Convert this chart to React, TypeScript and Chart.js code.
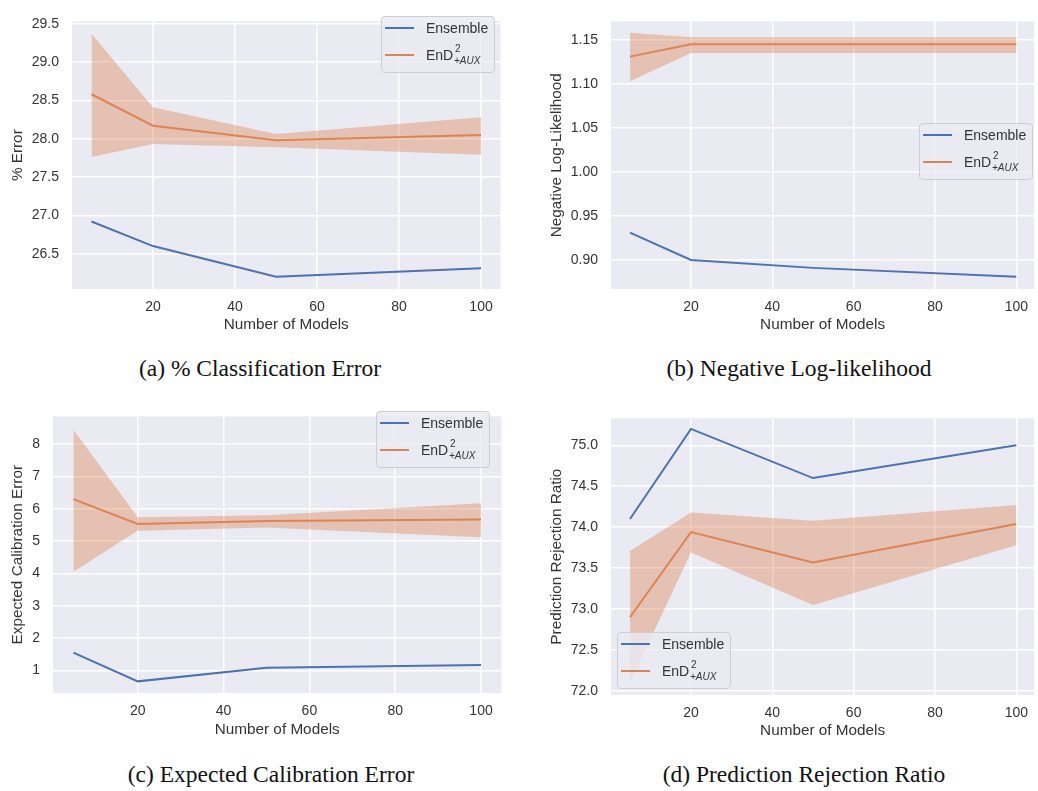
import React, { useEffect, useRef } from "react";
import { Chart, registerables } from "chart.js";

Chart.register(...registerables);

// ---------- data ----------
const numModels = [5, 20, 50, 100];
const xTicks = [20, 40, 60, 80, 100];

// (a) % Classification Error
const errEnsemble = [26.92, 26.6, 26.2, 26.31];
const errEnd = [28.58, 28.17, 27.98, 28.05];
const errEndUpper = [29.37, 28.41, 28.06, 28.28];
const errEndLower = [27.76, 27.93, 27.89, 27.79];
const errTicks = [26.5, 27.0, 27.5, 28.0, 28.5, 29.0, 29.5];

// (b) Negative Log-Likelihood
const nllEnsemble = [0.931, 0.9, 0.891, 0.881];
const nllEnd = [1.131, 1.145, 1.145, 1.145];
const nllEndUpper = [1.158, 1.153, 1.153, 1.153];
const nllEndLower = [1.103, 1.135, 1.135, 1.135];
const nllTicks = [0.9, 0.95, 1.0, 1.05, 1.1, 1.15];

// (c) Expected Calibration Error
const eceEnsemble = [1.55, 0.66, 1.08, 1.17];
const eceEnd = [6.3, 5.53, 5.62, 5.67];
const eceEndUpper = [8.45, 5.74, 5.8, 6.17];
const eceEndLower = [4.05, 5.32, 5.42, 5.12];
const eceTicks = [1, 2, 3, 4, 5, 6, 7, 8];

// (d) Prediction Rejection Ratio
const prrEnsemble = [74.1, 75.2, 74.6, 75.0];
const prrEnd = [72.9, 73.94, 73.57, 74.04];
const prrEndUpper = [73.71, 74.18, 74.08, 74.27];
const prrEndLower = [72.1, 73.69, 73.05, 73.78];
const prrTicks = [72.0, 72.5, 73.0, 73.5, 74.0, 74.5, 75.0];

const seriesLabels = ["Ensemble", "EnD2+AUX"];
const xTitle = "Number of Models";

// ---------- style ----------
const BLUE = "#4C72B0";
const ORANGE = "#DD8452";
const BAND = "rgba(221,132,82,0.40)";
const FACE = "#EAEAF2";
const TEXT = "#333333";
const SANS = '"Liberation Sans", Arial, sans-serif';
const SERIF = '"Liberation Serif", "Times New Roman", serif';
const TICK_SIZE = 14;
const TITLE_SIZE = 15.3;

type Rect = { x: number; y: number; w: number; h: number };
type Plot = { L: number; T: number; R: number; B: number };

interface PanelProps {
  canvas: Rect;
  plot: Plot;
  yTitleX: number;
  xTitleY: number;
  xMin: number;
  xMax: number;
  yMin: number;
  yMax: number;
  yTicks: number[];
  decimals: number;
  yTitle: string;
  ensemble: number[];
  end: number[];
  upper: number[];
  lower: number[];
}

const facePlugin = {
  id: "face",
  beforeDraw(chart: any) {
    const { ctx, chartArea } = chart;
    if (!chartArea) return;
    ctx.save();
    ctx.fillStyle = FACE;
    ctx.fillRect(chartArea.left, chartArea.top, chartArea.right - chartArea.left, chartArea.bottom - chartArea.top);
    ctx.restore();
  },
};

function pts(vals: number[]) {
  return numModels.map((x, i) => ({ x, y: vals[i] }));
}

function Panel(p: PanelProps) {
  const ref = useRef<HTMLCanvasElement | null>(null);
  useEffect(() => {
    if (!ref.current) return;
    const { canvas, plot } = p;
    const titleLH = TITLE_SIZE * 1.2;
    const chart = new Chart(ref.current, {
      type: "line",
      data: {
        datasets: [
          {
            label: seriesLabels[0],
            data: pts(p.ensemble),
            borderColor: BLUE,
            borderWidth: 2,
            pointRadius: 0,
            fill: false,
            tension: 0,
          },
          {
            label: seriesLabels[1],
            data: pts(p.end),
            borderColor: ORANGE,
            borderWidth: 2,
            pointRadius: 0,
            fill: false,
            tension: 0,
          },
          {
            label: "upper",
            data: pts(p.upper),
            borderColor: "transparent",
            borderWidth: 0,
            pointRadius: 0,
            fill: false,
            tension: 0,
          },
          {
            label: "lower",
            data: pts(p.lower),
            borderColor: "transparent",
            borderWidth: 0,
            pointRadius: 0,
            backgroundColor: BAND,
            fill: "-1",
            tension: 0,
          },
        ],
      },
      options: {
        animation: false,
        responsive: false,
        events: [],
        layout: {
          padding: {
            left: 0,
            top: plot.T - canvas.y,
            right: canvas.x + canvas.w - plot.R,
            bottom: 0,
          },
        },
        plugins: {
          legend: { display: false },
          tooltip: { enabled: false },
        },
        scales: {
          x: {
            type: "linear",
            min: p.xMin,
            max: p.xMax,
            afterBuildTicks: (scale: any) => {
              scale.ticks = xTicks.map((v) => ({ value: v }));
            },
            afterFit: (scale: any) => {
              scale.height = canvas.y + canvas.h - plot.B;
            },
            border: { display: false },
            grid: { color: "#ffffff", lineWidth: 1.5, drawTicks: false },
            ticks: {
              color: TEXT,
              font: { family: SANS, size: TICK_SIZE },
              padding: 10,
              maxRotation: 0,
              callback: (v: any) => String(v),
            },
            title: {
              display: true,
              text: xTitle,
              color: TEXT,
              font: { family: SANS, size: TITLE_SIZE },
              padding: { top: 0, bottom: canvas.y + canvas.h - p.xTitleY - titleLH / 2 },
            },
          },
          y: {
            type: "linear",
            min: p.yMin,
            max: p.yMax,
            afterBuildTicks: (scale: any) => {
              scale.ticks = p.yTicks.map((v) => ({ value: v }));
            },
            afterFit: (scale: any) => {
              scale.width = plot.L - canvas.x;
            },
            border: { display: false },
            grid: { color: "#ffffff", lineWidth: 1.5, drawTicks: false },
            ticks: {
              color: TEXT,
              font: { family: SANS, size: TICK_SIZE },
              padding: 13,
              callback: (v: any) => Number(v).toFixed(p.decimals),
            },
            title: {
              display: true,
              text: p.yTitle,
              color: TEXT,
              font: { family: SANS, size: TITLE_SIZE },
              padding: { top: p.yTitleX - canvas.x - titleLH / 2, bottom: 0 },
            },
          },
        },
      },
      plugins: [facePlugin],
    } as any);
    return () => chart.destroy();
  }, []);
  const { canvas } = p;
  return (
    <canvas
      ref={ref}
      width={canvas.w}
      height={canvas.h}
      style={{ position: "absolute", left: canvas.x, top: canvas.y, width: canvas.w, height: canvas.h }}
    />
  );
}

function Legend({ left, top }: { left: number; top: number }) {
  const base: React.CSSProperties = { position: "absolute", whiteSpace: "nowrap" };
  return (
    <div
      style={{
        position: "absolute",
        left,
        top,
        width: 114,
        height: 57,
        boxSizing: "border-box",
        border: "1px solid #cdcdd3",
        borderRadius: 4,
        background: "rgba(234,234,242,0.8)",
        fontFamily: SANS,
        fontSize: 14,
        color: TEXT,
      }}
    >
      <div style={{ ...base, left: 3, top: 10, width: 29, height: 2, background: BLUE }} />
      <div style={{ ...base, left: 44, top: 2, lineHeight: "18px" }}>{seriesLabels[0]}</div>
      <div style={{ ...base, left: 3, top: 37, width: 29, height: 2, background: ORANGE }} />
      <div style={{ ...base, left: 44, top: 29, lineHeight: "18px" }}>EnD</div>
      <div style={{ ...base, left: 73, top: 26, fontSize: 10, lineHeight: "12px" }}>2</div>
      <div style={{ ...base, left: 72, top: 38, fontSize: 10, lineHeight: "12px", fontStyle: "italic" }}>+AUX</div>
    </div>
  );
}

function Caption({ cx, cy, text }: { cx: number; cy: number; text: string }) {
  return (
    <div
      style={{
        position: "absolute",
        left: cx - 250,
        width: 500,
        top: cy - 15,
        height: 30,
        lineHeight: "30px",
        textAlign: "center",
        fontFamily: SERIF,
        fontSize: 23.5,
        color: "#111",
        whiteSpace: "nowrap",
      }}
    >
      {text}
    </div>
  );
}

export default function App() {
  return (
    <div
      style={{
        position: "absolute",
        left: 0,
        top: 0,
        width: 1038,
        height: 791,
        overflow: "hidden",
        background: "#ffffff",
      }}
    >
      <Panel
        canvas={{ x: 0, y: 0, w: 512, h: 340 }}
        plot={{ L: 72, T: 12, R: 500.5, B: 289 }}
        yTitleX={18}
        xTitleY={325}
        xMin={0.25}
        xMax={104.75}
        yMin={26.04}
        yMax={29.53}
        yTicks={errTicks}
        decimals={1}
        yTitle="% Error"
        ensemble={errEnsemble}
        end={errEnd}
        upper={errEndUpper}
        lower={errEndLower}
      />
      <Panel
        canvas={{ x: 520, y: 0, w: 518, h: 340 }}
        plot={{ L: 611, T: 12, R: 1038, B: 289 }}
        yTitleX={556.7}
        xTitleY={325}
        xMin={0.336}
        xMax={104.39}
        yMin={0.867}
        yMax={1.171}
        yTicks={nllTicks}
        decimals={2}
        yTitle="Negative Log-Likelihood"
        ensemble={nllEnsemble}
        end={nllEnd}
        upper={nllEndUpper}
        lower={nllEndLower}
      />
      <Panel
        canvas={{ x: 0, y: 395, w: 512, h: 360 }}
        plot={{ L: 53, T: 405, R: 501.4, B: 693 }}
        yTitleX={18}
        xTitleY={730}
        xMin={0.25}
        xMax={104.75}
        yMin={0.3}
        yMax={8.86}
        yTicks={eceTicks}
        decimals={0}
        yTitle="Expected Calibration Error"
        ensemble={eceEnsemble}
        end={eceEnd}
        upper={eceEndUpper}
        lower={eceEndLower}
      />
      <Panel
        canvas={{ x: 520, y: 395, w: 518, h: 360 }}
        plot={{ L: 611, T: 418.3, R: 1038, B: 695 }}
        yTitleX={556.7}
        xTitleY={731}
        xMin={0.336}
        xMax={104.39}
        yMin={71.95}
        yMax={75.33}
        yTicks={prrTicks}
        decimals={1}
        yTitle="Prediction Rejection Ratio"
        ensemble={prrEnsemble}
        end={prrEnd}
        upper={prrEndUpper}
        lower={prrEndLower}
      />
      <Legend left={381} top={16} />
      <Legend left={919} top={123} />
      <Legend left={376} top={411} />
      <Legend left={617} top={632} />
      <Caption cx={260} cy={368} text="(a) % Classification Error" />
      <Caption cx={799} cy={368} text="(b) Negative Log-likelihood" />
      <Caption cx={271} cy={774} text="(c) Expected Calibration Error" />
      <Caption cx={804} cy={774} text="(d) Prediction Rejection Ratio" />
    </div>
  );
}
